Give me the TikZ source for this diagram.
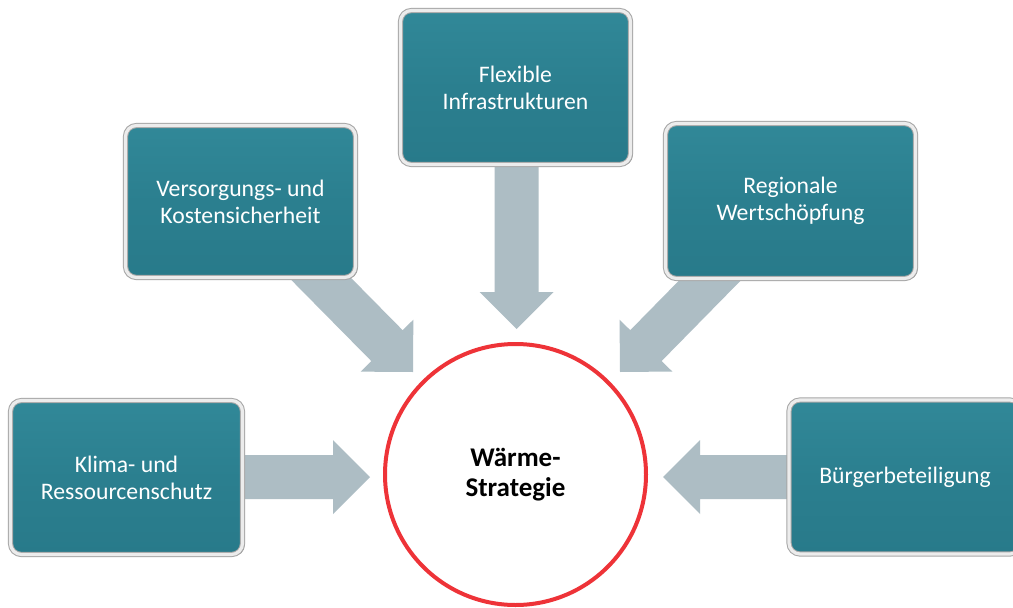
\documentclass[tikz,border=0pt]{standalone}
\usepackage{fontspec}
\setmainfont{Carlito}
\usetikzlibrary{calc,shadows,backgrounds}
\definecolor{tealA}{HTML}{318898}
\definecolor{tealB}{HTML}{2B7F8F}
\definecolor{tealC}{HTML}{287A8A}
\definecolor{arrowgray}{HTML}{ADBDC4}
\definecolor{ringred}{HTML}{EE3338}
\tikzset{
  box/.style={rounded corners=11pt, top color=tealA, bottom color=tealC, middle color=tealB,
    draw=gray!70, double=white!85!gray, double distance=3.2pt, line width=1pt,
    text=white, align=center, font=\fontsize{23.7}{27}\selectfont, inner sep=0pt,
    drop shadow={shadow xshift=2.2pt, shadow yshift=-1.5pt, opacity=0.6, fill=black!80}},
  ring/.style={circle, draw=ringred, line width=4pt, fill=white, minimum size=261pt,
    align=center, font=\fontsize{27}{29.5}\selectfont\bfseries, inner sep=0pt},
  blockarrow/.style={fill=arrowgray, draw=none}
}
\newcommand\blkarrow[2]{%
  \path ($(#2)!37pt!(#1)$) coordinate (hb);
  \fill[blockarrow] ($(#1)!22pt!90:(#2)$) -- ($(hb)!22pt!90:(#2)$) -- ($(hb)!37pt!90:(#2)$)
    -- (#2) -- ($(hb)!37pt!-90:(#2)$) -- ($(hb)!22pt!-90:(#2)$) -- ($(#1)!22pt!-90:(#2)$) -- cycle;
}
\begin{document}
\begin{tikzpicture}[x=1pt,y=-1pt]
\useasboundingbox (0,0) rectangle (1013,608);
% boxes
\node[box, minimum width=230pt, minimum height=154pt] (fl) at (515.5,87.5) {Flexible\\Infrastrukturen};
\node[box, minimum width=230pt, minimum height=152pt] (vk) at (240.5,201.5) {Versorgungs- und\\Kostensicherheit};
\node[box, minimum width=250pt, minimum height=155pt] (rw) at (790.5,201) {Regionale\\Wertschöpfung};
\node[box, minimum width=232pt, minimum height=154pt] (kr) at (126.5,477.5) {Klima- und\\Ressourcenschutz};
\node[box, minimum width=232pt, minimum height=154pt] (bb) at (905,477) {Bürgerbeteiligung};
% centre
\node[ring] (ws) at (515.5,474.5) {Wärme-\\Strategie};
% arrow tips
\coordinate (tfl) at (516.5,329);
\coordinate (tvk) at (413,372);
\coordinate (trw) at (620,372);
\coordinate (tkr) at (370,477);
\coordinate (tbb) at (663,477);
\begin{scope}[on background layer]
  \fill[white] (0,0) rectangle (1013,608);
  \blkarrow{$(fl.south)+(1,-6)$}{tfl}
  \blkarrow{$(vk.south)+(60,-20)$}{tvk}
  \blkarrow{$(rw.south)+(-58.5,-21)$}{trw}
  \blkarrow{$(kr.east)+(-6,-0.5)$}{tkr}
  \blkarrow{$(bb.west)+(6,0)$}{tbb}
\end{scope}
\end{tikzpicture}
\end{document}
